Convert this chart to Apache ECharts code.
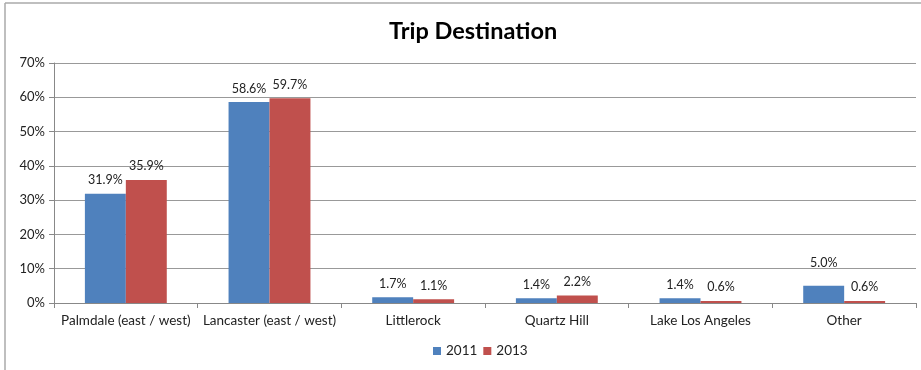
<!DOCTYPE html>
<html><head><meta charset="utf-8">
<script src="https://cdn.jsdelivr.net/npm/echarts@6/dist/echarts.min.js"></script>
<style>html,body{margin:0;padding:0;background:#fff}#c{width:921px;height:370px}</style>
</head><body><div id="c"></div>
<script>
const categories = ["Palmdale (east / west)", "Lancaster (east / west)", "Littlerock", "Quartz Hill", "Lake Los Angeles", "Other"];
const series2011 = [31.9, 58.6, 1.7, 1.4, 1.4, 5.0];
const series2013 = [35.9, 59.7, 1.1, 2.2, 0.6, 0.6];
const yTicks = [0, 10, 20, 30, 40, 50, 60, 70];

const chart = echarts.init(document.getElementById('c'));
const font = "Lato, 'DejaVu Sans', sans-serif";
const lbl = {show: true, position: 'top', formatter: p => p.value.toFixed(1) + '%', color: '#222', fontSize: 12.5, fontFamily: font, distance: 7};
const data2011 = series2011.map((v, i) => i === 5 ? {value: v, label: {distance: 16}} : v);
chart.setOption({
  animation: false,
  title: {text: 'Trip Destination', left: 384, top: 14, textStyle: {fontFamily: 'Lato, sans-serif', fontWeight: 'bold', fontSize: 23.5, color: '#000'}},
  legend: {bottom: 7, left: 428, itemWidth: 8, itemHeight: 8, itemGap: 6, icon: 'rect', textStyle: {fontFamily: font, fontSize: 13.5, color: '#222'}, data: ['2011', '2013']},
  grid: {left: 54, right: 5, top: 63, bottom: 67},
  xAxis: {type: 'category', data: categories, axisLine: {lineStyle: {color: '#888'}}, axisTick: {show: true, length: 5, lineStyle: {color: '#888'}},
    axisLabel: {interval: 0, color: '#222', fontFamily: font, fontSize: 13.5, margin: 11}},
  yAxis: {type: 'value', min: yTicks[0], max: yTicks[yTicks.length - 1], interval: 10,
    axisLine: {show: true, lineStyle: {color: '#888'}}, axisTick: {show: true, length: 5, lineStyle: {color: '#888'}},
    splitLine: {lineStyle: {color: '#999'}},
    axisLabel: {formatter: v => v + '%', color: '#222', fontFamily: font, fontSize: 13, margin: 9}},
  series: [
    {name: '2011', type: 'bar', data: data2011, itemStyle: {color: '#4f81bd'}, barGap: '0%', barCategoryGap: '43%', label: lbl},
    {name: '2013', type: 'bar', data: series2013, itemStyle: {color: '#c0504d'}, label: lbl}
  ],
  graphic: [
    {type: 'line', shape: {x1: 5, y1: 3, x2: 921, y2: 3}, style: {stroke: '#aaa', lineWidth: 1.5}},
    {type: 'line', shape: {x1: 5, y1: 3, x2: 5, y2: 370}, style: {stroke: '#aaa', lineWidth: 1.5}}
  ]
});
</script></body></html>
